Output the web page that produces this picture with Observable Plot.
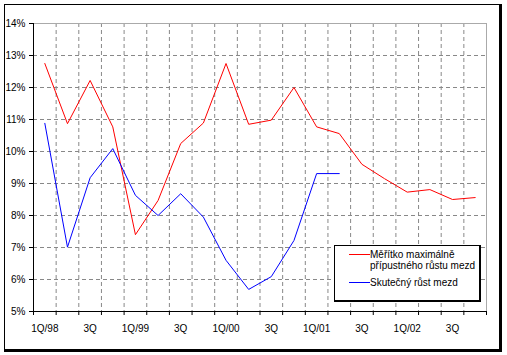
<!DOCTYPE html>
<html>
<head>
<meta charset="utf-8">
<script src="https://cdn.jsdelivr.net/npm/d3@7"></script>
<script src="https://cdn.jsdelivr.net/npm/@observablehq/plot@0.6"></script>
<style>
  html, body { margin: 0; padding: 0; background: #fff; }
  #wrap { position: relative; width: 507px; height: 355px; overflow: hidden; font-family: "Liberation Sans", Arial, sans-serif; }
  #frame { position: absolute; left: 4px; top: 4px; width: 494px; height: 344px; border-left: 1px solid #000; border-top: 1px solid #000; border-right: 3px solid #000; border-bottom: 3px solid #000; }
  #chart { position: absolute; left: 0; top: 0; }
  #legend { position: absolute; left: 334px; top: 245px; width: 144px; height: 54px; background: #fff; border-left: 1px solid #000; border-top: 1px solid #000; border-right: 2px solid #000; border-bottom: 2px solid #000; font-size: 10px; color: #000; }
  .sw { position: absolute; left: 14px; width: 21px; height: 1px; }
  .lt { position: absolute; left: 35px; line-height: 11px; white-space: nowrap; }
</style>
</head>
<body>
<div id="wrap">
  <div id="frame"></div>
  <div id="chart"></div>
  <div id="legend"></div>
</div>
<script>
const quarters = ["1Q/98","2Q/98","3Q/98","4Q/98","1Q/99","2Q/99","3Q/99","4Q/99","1Q/00","2Q/00","3Q/00","4Q/00","1Q/01","2Q/01","3Q/01","4Q/01","1Q/02","2Q/02","3Q/02","4Q/02"];
const tickLabels = ["1Q/98","3Q","1Q/99","3Q","1Q/00","3Q","1Q/01","3Q","1Q/02","3Q"];
const seriesNames = ["Měřítko maximálně přípustného růstu mezd", "Skutečný růst mezd"];
const maxGrowth = [12.75,10.87,12.22,10.77,7.40,8.47,10.25,10.89,12.75,10.85,10.98,12.0,10.77,10.56,9.6,9.15,8.73,8.81,8.50,8.56];
const actualGrowth = [10.88,7.01,9.18,10.09,8.63,8.0,8.68,7.95,6.6,5.69,6.09,7.22,9.31,9.31,null,null,null,null,null,null];
const yTicks = [5,6,7,8,9,10,11,12,13,14];

const data = quarters.map((q, i) => ({i, q, a: maxGrowth[i], b: actualGrowth[i]}));
const bounds = d3.range(0, quarters.length + 1);
const inner = d3.range(1, quarters.length);
const labelPos = tickLabels.map((_, k) => 2 * k + 0.5);

const plot = Plot.plot({
  width: 507,
  height: 355,
  marginLeft: 33,
  marginRight: 21,
  marginTop: 23,
  marginBottom: 44,
  style: {fontFamily: "'Liberation Sans', Arial, sans-serif", fontSize: "10px", background: "transparent", color: "#000"},
  x: {type: "linear", domain: [0, quarters.length]},
  y: {domain: [5, 14]},
  marks: [
    Plot.ruleY(yTicks.filter(v => v > 5 && v < 14), {stroke: "#888", strokeDasharray: "4,3", strokeWidth: 1}),
    Plot.ruleX(inner, {stroke: "#888", strokeDasharray: "4,3", strokeWidth: 1}),
    Plot.ruleY([14], {stroke: "#aaa"}),
    Plot.ruleX([quarters.length], {stroke: "#aaa"}),
    Plot.line(data, {x: d => d.i + 0.5, y: "a", stroke: "#ff0000", strokeWidth: 1}),
    Plot.line(data.filter(d => d.b != null), {x: d => d.i + 0.5, y: "b", stroke: "#0000ff", strokeWidth: 1}),
    Plot.ruleX([0], {stroke: "#000"}),
    Plot.ruleY([5], {stroke: "#000"}),
    Plot.axisX({ticks: bounds, tickSize: 4, tickFormat: () => "", stroke: "#000"}),
    Plot.axisX({ticks: labelPos, tickSize: 0, tickPadding: 13, tickFormat: (d, k) => tickLabels[Math.round((d - 0.5) / 2)], fill: "#000"}),
    Plot.axisY({ticks: yTicks, tickSize: 4, tickPadding: 4, tickFormat: d => d + "%", stroke: "#000", fill: "#000"})
  ]
});
document.getElementById("chart").appendChild(plot);

const leg = document.getElementById("legend");
const colors = ["#ff0000", "#0000ff"];
const parts = [["Měřítko maximálně", "přípustného růstu mezd"], ["Skutečný růst mezd"]];
const swY = [8, 36];
parts.forEach((lines, s) => {
  const sw = document.createElement("div");
  sw.className = "sw";
  sw.style.top = (swY[s] - 0.5) + "px";
  sw.style.background = colors[s];
  leg.appendChild(sw);
  lines.forEach((t, k) => {
    const el = document.createElement("div");
    el.className = "lt";
    el.textContent = t;
    el.style.top = (swY[s] - 5.5 + 11 * k) + "px";
    leg.appendChild(el);
  });
});
</script>
</body>
</html>
